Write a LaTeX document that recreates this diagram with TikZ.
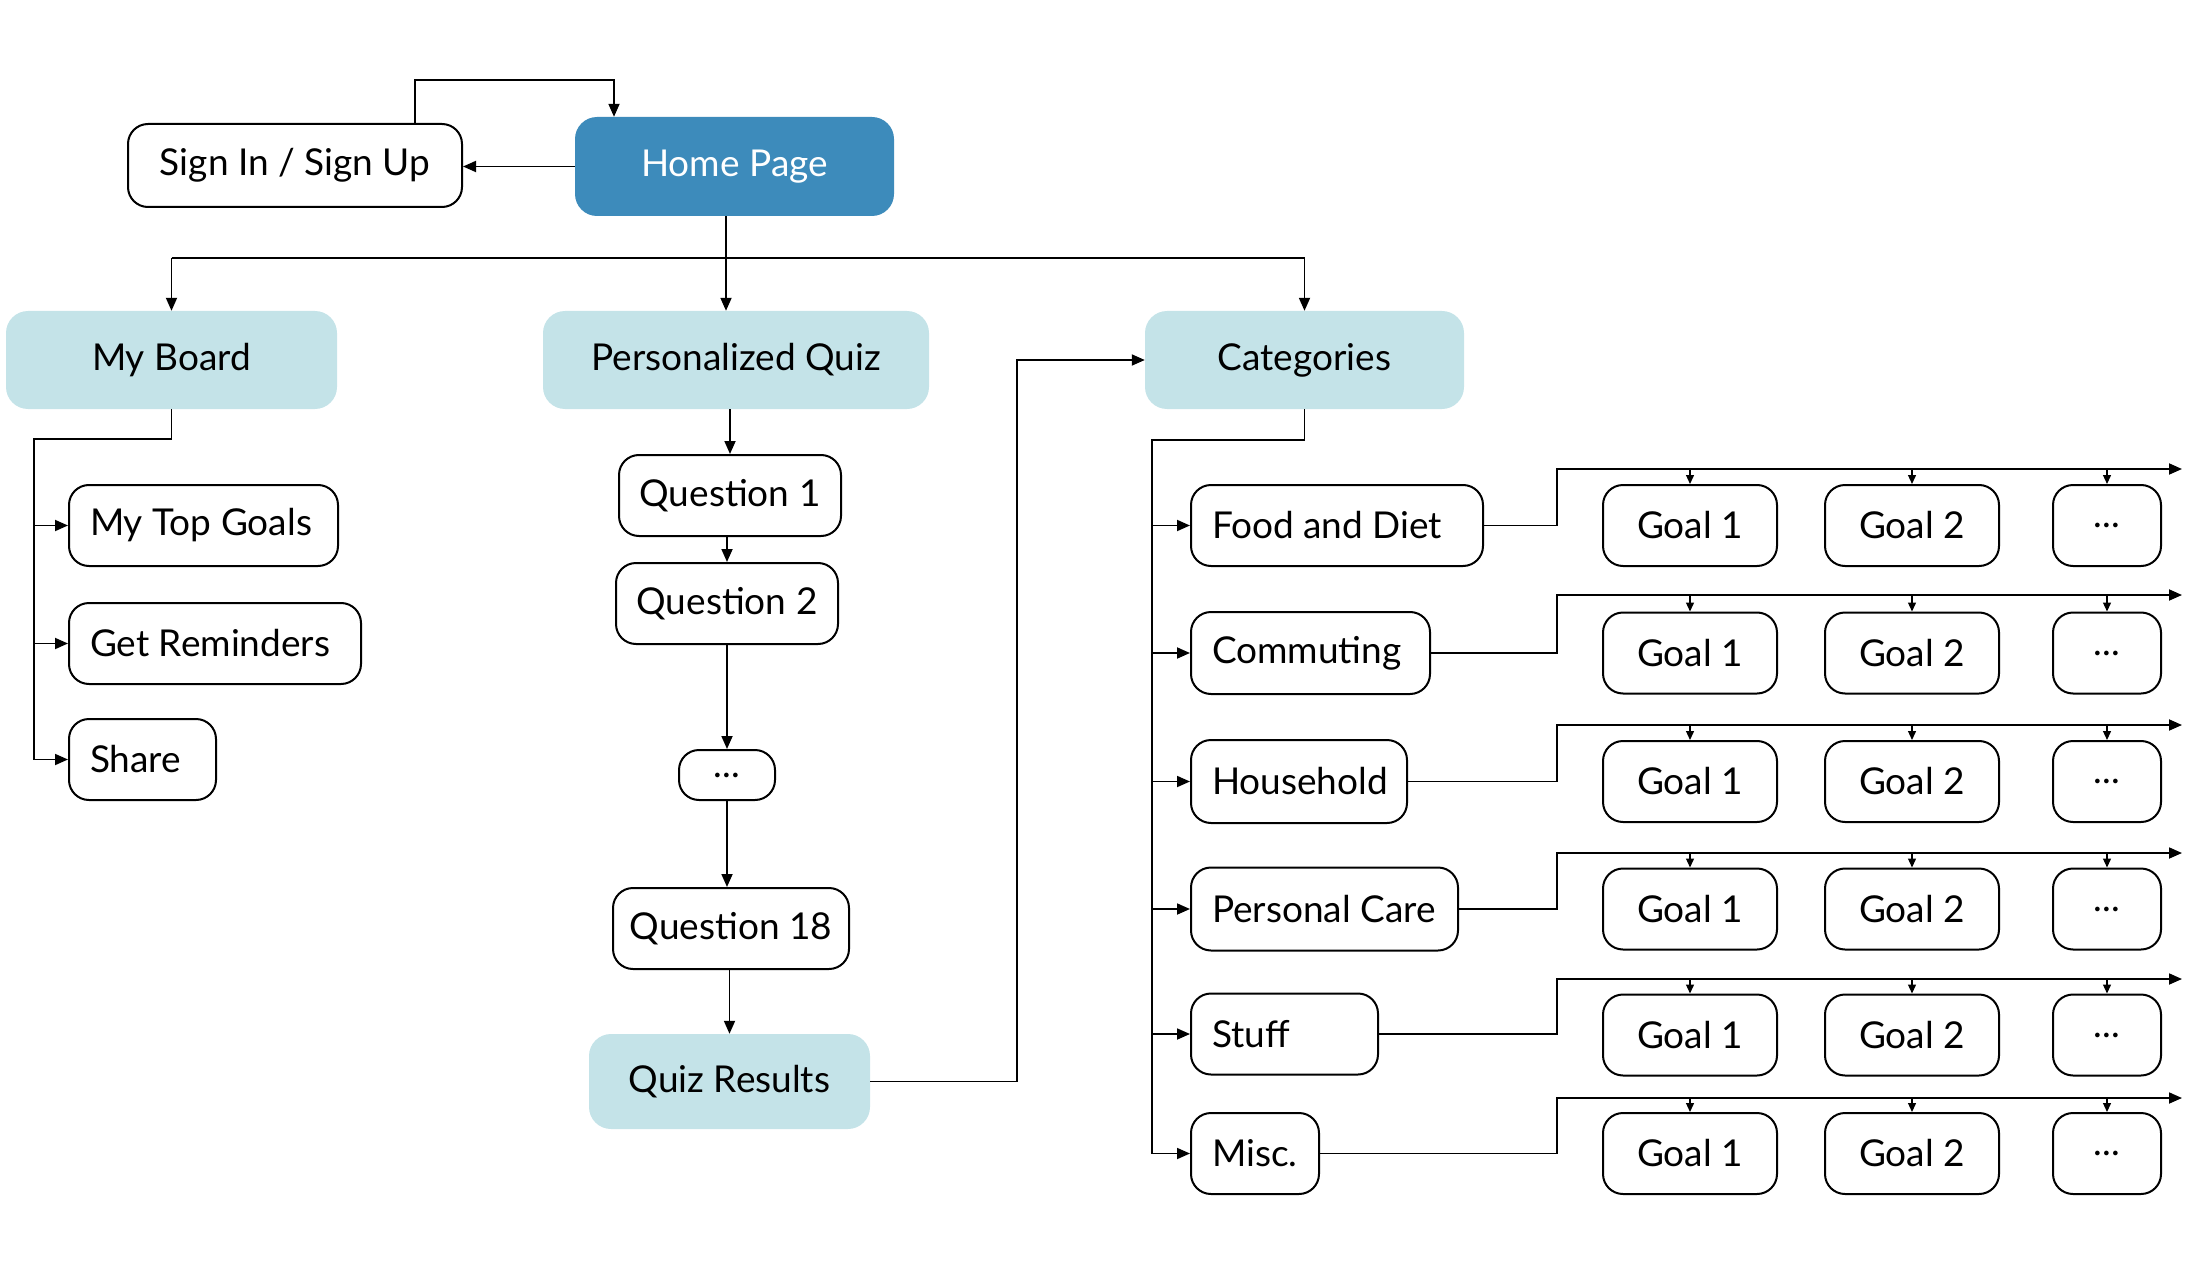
\documentclass[tikz,border=0pt]{standalone}
\usepackage{fontspec}
\setmainfont{Lato}
\usetikzlibrary{arrows.meta}
\definecolor{homeblue}{RGB}{61,139,187}
\definecolor{lightteal}{RGB}{196,227,232}
\newcommand{\lfix}[2]{\makebox[#1][l]{#2}}
\tikzset{
  txt/.style={font=\fontsize{37}{44}\selectfont},
  box/.style={txt, draw=black, line width=2pt, rounded corners=20pt, fill=white, inner sep=0pt},
  lbox/.style={box, anchor=west, inner xsep=21pt},
  mainbox/.style={txt, fill=lightteal, draw=none, rounded corners=22pt, inner sep=0pt},
  homebox/.style={txt, fill=homeblue, text=white, draw=none, rounded corners=22pt, inner sep=0pt},
  link/.style={line width=1.8pt},
  conn/.style={link, -{Triangle[length=13pt,width=11pt]}},
  small/.style={line width=1.3pt, -{Triangle[length=9pt,width=8pt]}}
}
\begin{document}
\begin{tikzpicture}[x=1pt,y=-1pt]
\useasboundingbox (0,0) rectangle (2190,1281);

% top
\node[box, minimum width=334pt, minimum height=83pt] (signin) at (295,165.5) {Sign In / Sign Up};
\node[homebox, minimum width=319pt, minimum height=99pt] (home) at (734.5,166.5) {Home Page};

\node[mainbox, minimum width=331pt, minimum height=98pt] (myboard) at (171.5,360) {My Board};
\node[mainbox, minimum width=386pt, minimum height=98pt] (pquiz) at (736,360) {Personalized Quiz};
\node[mainbox, minimum width=319pt, minimum height=98pt] (cats) at (1304.5,360) {Categories};

% my board children
\node[lbox, minimum height=81pt] (mytop) at (68,525.5) {\lfix{227pt}{My Top Goals}};
\node[lbox, minimum height=81pt] (getrem) at (68,643.5) {\lfix{250pt}{Get Reminders}};
\node[lbox, minimum height=81pt] (share) at (68,759.5) {\lfix{105pt}{Share}};

% quiz
\node[box, minimum width=222pt, minimum height=81pt] (q1) at (730,495.5) {Question 1};
\node[box, minimum width=222pt, minimum height=81pt] (q2) at (727,603.5) {Question 2};
\node[box, minimum width=96pt, minimum height=50pt] (qdots) at (727,775) {...};
\node[box, minimum width=236pt, minimum height=81pt] (q18) at (731,928.5) {Question 18};
\node[mainbox, minimum width=281pt, minimum height=95pt] (qres) at (729.5,1081.5) {Quiz Results};

% categories
\node[lbox, minimum height=81pt] (food) at (1190,525.5) {\lfix{250pt}{Food and Diet}};
\node[lbox, minimum height=82pt] (comm) at (1190,653) {\lfix{197pt}{Commuting}};
\node[lbox, minimum height=83pt] (house) at (1190,781.5) {\lfix{174pt}{Household}};
\node[lbox, minimum height=83pt] (pcare) at (1190,909) {\lfix{225pt}{Personal Care}};
\node[lbox, minimum height=81pt] (stuff) at (1190,1034) {\lfix{145pt}{Stuff}};
\node[lbox, minimum height=81pt] (misc) at (1190,1153.5) {\lfix{86pt}{Misc.}};

% goals per row
\foreach \i/\cat/\cy/\ry in {1/food/525.5/469, 2/comm/653/595, 3/house/781.5/725, 4/pcare/909/853, 5/stuff/1035/979, 6/misc/1153.5/1098} {
  \node[box, minimum width=174pt, minimum height=81pt] (ga\i) at (1690,\cy) {Goal 1};
  \node[box, minimum width=174pt, minimum height=81pt] (gb\i) at (1912,\cy) {Goal 2};
  \node[box, minimum width=108pt, minimum height=81pt] (gc\i) at (2107,\cy) {...};
  \coordinate (rs\i) at (1557,\ry);
  \coordinate (re\i) at (2182,\ry);
  \draw[conn] (\cat.east) -- (\cat.east -| rs\i) -- (rs\i) -- (re\i);
  \draw[small] (ga\i.north |- rs\i) -- (ga\i.north);
  \draw[small] (gb\i.north |- rs\i) -- (gb\i.north);
  \draw[small] (gc\i.north |- rs\i) -- (gc\i.north);
}

% connectors top
\coordinate (loopL) at (415,80);
\coordinate (loopR) at (614,80);
\draw[conn] (loopL |- signin.north) -- (loopL) -- (loopR) -- (loopR |- home.north);
\draw[conn] (home.west) -- (home.west -| signin.east);

\coordinate (bus) at (726,258);
\draw[link] (bus |- home.south) -- (bus);
\draw[link] (myboard.north |- bus) -- (cats.north |- bus);
\draw[conn] (myboard.north |- bus) -- (myboard.north);
\draw[conn] (bus) -- (bus |- pquiz.north);
\draw[conn] (cats.north |- bus) -- (cats.north);

% my board branch
\coordinate (mbL) at (34,439);
\draw[link] (myboard.south) -- (myboard.south |- mbL) -- (mbL) -- (mbL |- share.west);
\draw[conn] (mbL |- mytop.west) -- (mytop.west);
\draw[conn] (mbL |- getrem.west) -- (getrem.west);
\draw[conn] (mbL |- share.west) -- (share.west);

% quiz chain
\draw[conn] (q1.north |- pquiz.south) -- (q1.north);
\draw[conn] (q2.north |- q1.south) -- (q2.north);
\draw[conn] (qdots.north |- q2.south) -- (qdots.north);
\draw[conn] (qdots.south) -- (qdots.south |- q18.north);
\draw[conn] (qres.north |- q18.south) -- (qres.north);

% results to categories
\coordinate (qc) at (1017,0);
\draw[conn] (qres.east) -- (qres.east -| qc) -- (qc |- cats.west) -- (cats.west);

% categories branch
\coordinate (cb) at (1152,440);
\draw[link] (cats.south) -- (cats.south |- cb) -- (cb) -- (cb |- misc.west);
\foreach \c in {food,comm,house,pcare,stuff,misc} {
  \draw[conn] (cb |- \c.west) -- (\c.west);
}
\end{tikzpicture}
\end{document}
